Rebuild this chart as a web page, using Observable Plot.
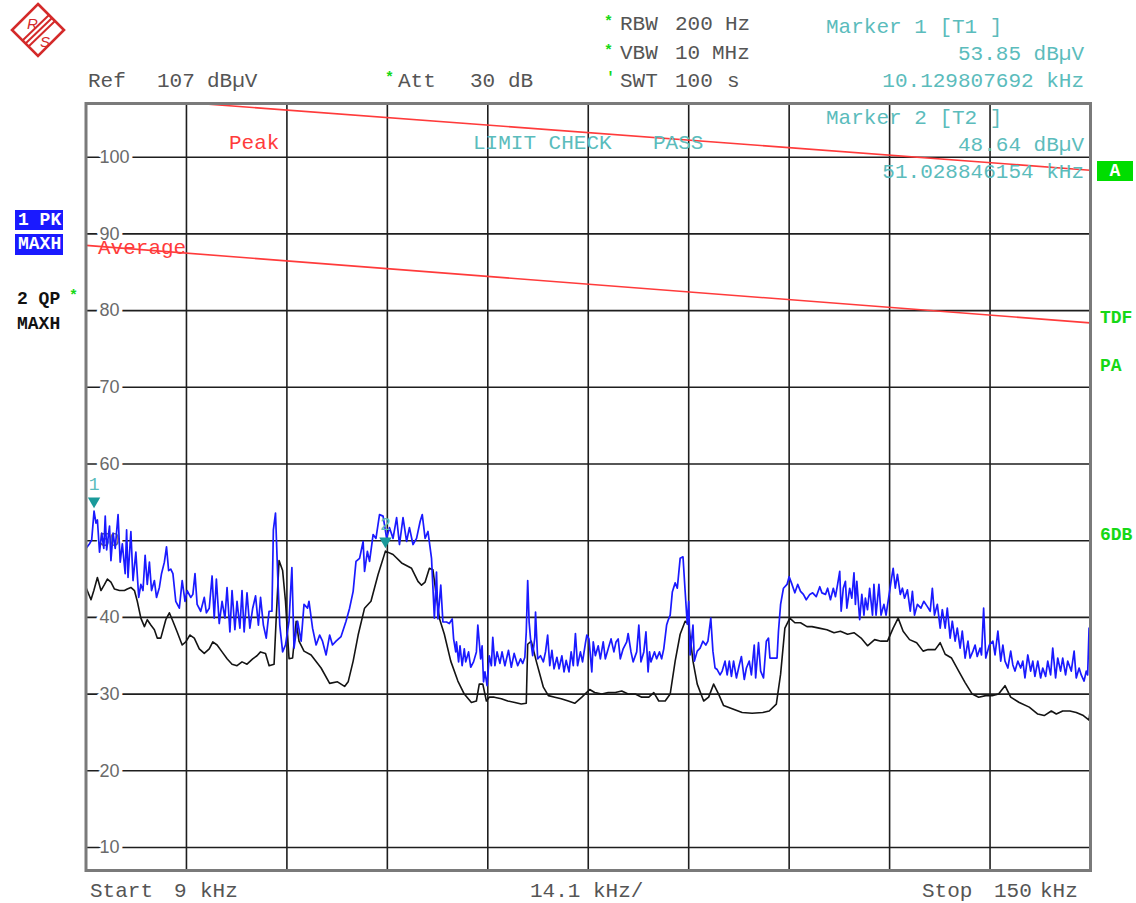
<!DOCTYPE html>
<html><head><meta charset="utf-8">
<script src="https://cdn.jsdelivr.net/npm/d3@7"></script>
<script src="https://cdn.jsdelivr.net/npm/@observablehq/plot@0.6"></script>
<style>
body{margin:0;background:#fff;}
#wrap{position:relative;width:1136px;height:903px;overflow:hidden;background:#fff;}
.t{position:absolute;white-space:pre;font-family:"Liberation Mono","DejaVu Sans Mono",monospace;font-size:21px;line-height:1;transform:translateY(-50%);}
.r{transform:translate(-100%,-50%);}
.b{font-weight:bold;font-size:18px;}
</style></head><body><div id="wrap"></div>
<script>
// ---- axis settings (kHz, dBµV)
const freqStart = 9, freqStop = 150, freqDiv = 14.1;
const refLevel = 107, levelBottom = 7;
const levelTicks = [10,20,30,40,50,60,70,80,90,100];
const freqGrid = [23.1,37.2,51.3,65.4,79.5,93.6,107.7,121.8,135.9];

// ---- limit lines [kHz, dBµV]
const peakLimit = [[9,108.1],[150,98.3]];
const avgLimit = [[9,88.5],[150,78.4]];

// ---- markers
const markers = [{n:"1", f:10.13, v:53.85}, {n:"2", f:51.03, v:48.64}];

// ---- trace 1: PK MAXH [kHz, dBµV]
const pkTrace = [
[9.0,49.0],[9.5,49.6],[9.8,50.1],[10.13,53.85],[10.4,52.3],[10.6,52.7],[10.9,48.5],[11.2,51.0],[11.5,49.0],[11.7,53.2],
[11.9,48.8],[12.3,51.9],[12.5,47.4],[12.8,51.0],[13.1,49.0],[13.5,53.4],[13.8,47.2],[14.1,49.6],[14.5,45.7],[14.7,51.4],
[14.9,45.2],[15.3,51.2],[15.6,44.8],[16.0,48.5],[16.4,42.6],[16.7,44.3],[17.0,43.5],[17.3,48.1],[17.6,44.3],[17.9,47.2],
[18.2,43.5],[18.6,44.8],[18.9,42.6],[19.3,43.9],[19.6,45.7],[20.0,47.2],[20.3,49.2],[20.6,46.1],[20.9,46.3],[21.2,45.7],
[21.6,42.1],[22.1,41.2],[22.5,44.8],[22.9,42.1],[23.2,43.5],[23.7,42.6],[24.0,43.0],[24.3,45.7],[24.6,41.7],[25.1,40.8],
[25.6,42.6],[25.9,40.6],[26.3,41.2],[26.7,45.4],[27.0,39.9],[27.3,45.0],[27.7,39.2],[28.1,42.1],[28.5,39.9],[28.8,43.9],
[29.2,38.1],[29.5,43.5],[29.9,38.4],[30.2,42.1],[30.6,38.6],[30.9,43.5],[31.2,38.1],[31.6,43.2],[32.0,38.6],[32.4,41.2],
[32.8,42.8],[33.2,39.0],[33.5,42.6],[33.9,39.0],[34.3,37.3],[34.7,40.8],[35.1,40.8],[35.3,51.4],[35.6,53.6],[35.9,45.7],
[36.2,39.0],[36.6,35.5],[37.0,36.4],[37.5,39.5],[37.9,46.5],[38.2,36.0],[38.7,39.5],[39.2,36.9],[39.6,41.7],[40.1,41.2],
[40.3,42.1],[40.8,38.6],[41.3,36.4],[41.8,37.7],[42.2,36.9],[42.7,35.1],[43.2,37.7],[43.6,36.4],[44.1,36.9],[44.8,37.5],
[45.5,39.5],[46.0,41.2],[46.5,43.4],[46.9,47.3],[47.4,47.7],[47.9,49.9],[48.1,46.0],[48.5,48.6],[48.8,47.3],[49.3,50.8],
[49.7,50.3],[50.2,53.4],[50.7,53.2],[51.2,50.3],[51.6,51.7],[52.1,50.3],[52.6,53.0],[53.0,49.5],[53.5,53.0],[54.0,49.9],
[54.4,51.7],[54.9,49.5],[55.4,50.3],[55.9,52.5],[56.2,53.4],[56.6,50.3],[57.0,51.2],[57.5,47.7],[57.9,39.9],[58.2,45.9],
[58.4,39.8],[58.8,44.2],[59.1,39.4],[59.6,39.4],[60.0,39.2],[60.4,39.8],[60.6,37.2],[60.9,35.5],[61.0,36.8],[61.3,34.2],
[61.5,36.3],[61.8,33.7],[62.1,35.9],[62.3,34.2],[62.7,35.5],[63.0,33.5],[63.4,34.2],[63.8,35.5],[64.0,39.0],[64.4,34.6],
[64.6,36.3],[64.8,31.6],[65.0,32.9],[65.3,31.1],[65.6,35.0],[65.9,33.7],[66.1,37.4],[66.4,33.7],[66.7,35.5],[67.1,34.0],
[67.4,35.5],[67.8,33.7],[68.3,35.7],[68.7,33.5],[69.1,35.3],[69.6,33.7],[70.0,34.6],[70.3,34.0],[70.6,34.8],[70.8,38.1],
[71.0,44.8],[71.2,39.4],[71.4,37.2],[71.7,35.0],[72.0,37.4],[72.1,40.7],[72.4,34.6],[72.8,35.0],[73.2,34.2],[73.5,35.5],
[73.8,37.7],[74.1,33.7],[74.4,35.7],[74.7,33.3],[75.1,34.8],[75.4,33.3],[75.8,35.0],[76.1,32.9],[76.4,34.4],[76.8,32.9],
[77.1,35.5],[77.4,33.7],[77.7,37.9],[78.0,33.7],[78.4,35.5],[78.7,34.2],[79.1,36.6],[79.3,37.7],[79.6,37.2],[80.0,32.9],
[80.2,36.8],[80.5,35.0],[80.9,36.3],[81.2,34.6],[81.6,36.8],[81.9,34.6],[82.3,35.9],[82.7,37.2],[83.1,35.5],[83.4,36.8],
[83.7,37.2],[84.0,34.6],[84.4,35.9],[84.9,36.8],[85.1,37.9],[85.5,35.5],[85.8,34.2],[86.3,35.5],[86.6,39.0],[86.9,34.2],
[87.3,35.5],[87.6,38.1],[87.9,32.9],[88.1,35.5],[88.3,34.2],[88.8,35.5],[89.1,34.6],[89.5,35.5],[89.8,34.6],[90.1,35.9],
[90.5,39.0],[90.7,39.6],[91.0,40.3],[91.3,43.3],[91.7,44.5],[92.0,43.8],[92.4,47.7],[92.8,47.9],[93.1,43.4],[93.4,39.1],
[93.6,42.1],[93.8,35.1],[94.2,39.0],[94.4,34.3],[94.8,35.6],[95.2,36.0],[95.6,36.9],[96.0,36.4],[96.3,36.9],[96.7,39.9],
[97.0,35.6],[97.3,33.4],[97.6,33.2],[98.0,32.5],[98.3,33.0],[98.7,34.3],[99.0,32.5],[99.3,34.3],[99.6,32.3],[99.9,34.3],
[100.3,32.1],[100.7,33.8],[101.0,34.9],[101.4,31.9],[101.7,33.4],[102.1,34.3],[102.4,32.5],[102.8,36.4],[103.0,32.1],[103.4,36.7],
[103.7,33.0],[104.1,32.1],[104.5,36.9],[104.8,37.3],[105.0,34.7],[105.5,34.7],[106.0,34.7],[106.2,38.2],[106.5,41.7],[106.9,43.8],
[107.4,44.3],[107.7,45.3],[108.1,44.3],[108.5,43.2],[108.9,44.3],[109.3,43.4],[109.7,43.0],[110.1,42.3],[110.6,43.0],[111.0,43.2],
[111.5,42.7],[112.0,44.0],[112.3,43.2],[112.8,43.0],[113.1,43.8],[113.5,42.3],[113.9,43.8],[114.2,42.7],[114.5,44.3],[114.8,46.0],
[115.0,40.8],[115.3,43.8],[115.6,44.7],[115.8,41.2],[116.2,43.8],[116.5,42.5],[116.8,45.8],[117.0,41.7],[117.2,44.7],[117.6,39.7],
[117.9,43.0],[118.2,40.3],[118.4,42.5],[118.7,41.0],[119.0,43.8],[119.4,40.3],[119.6,44.3],[119.9,40.3],[120.3,44.3],[120.6,40.3],
[121.0,41.7],[121.3,40.3],[121.8,43.4],[122.0,44.7],[122.3,46.4],[122.6,43.8],[122.9,45.6],[123.3,43.0],[123.6,43.8],[123.9,42.5],
[124.3,43.6],[124.7,40.8],[125.0,43.4],[125.3,40.3],[125.7,41.7],[126.2,41.2],[126.6,42.1],[127.1,41.4],[127.5,40.8],[127.8,43.8],
[128.1,40.3],[128.5,41.7],[128.9,38.6],[129.2,41.0],[129.6,38.6],[129.9,41.2],[130.3,37.3],[130.6,39.5],[131.0,36.9],[131.3,38.6],
[131.7,36.0],[132.0,38.2],[132.4,34.7],[132.8,36.9],[133.1,34.7],[133.5,35.6],[133.8,36.4],[134.1,34.9],[134.5,36.0],[134.7,35.1],
[135.0,41.2],[135.3,34.7],[135.8,36.4],[136.3,36.9],[136.6,35.1],[137.0,38.2],[137.4,34.3],[137.7,36.4],[138.0,34.3],[138.4,33.4],
[138.8,35.6],[139.1,33.8],[139.4,33.0],[139.8,34.3],[140.2,33.4],[140.5,34.3],[140.8,32.1],[141.2,35.1],[141.6,33.0],[141.9,34.3],
[142.2,32.3],[142.6,34.3],[143.0,32.1],[143.3,33.4],[143.7,32.3],[144.0,34.3],[144.4,32.5],[144.7,36.0],[145.1,32.1],[145.4,34.7],
[145.8,33.0],[146.1,34.7],[146.5,32.5],[146.8,34.3],[147.3,33.0],[147.7,35.6],[148.0,32.1],[148.4,33.4],[148.7,32.5],[149.1,31.7],
[149.4,33.0],[149.6,32.5],[149.8,38.6],[150.0,32.3]
];

// ---- trace 2: QP MAXH [kHz, dBµV]
const qpTrace = [
[9.0,43.9],[9.7,42.3],[10.1,43.5],[10.6,45.2],[11.1,43.5],[11.6,44.3],[12.0,45.0],[12.5,44.6],[13.0,43.7],[13.7,43.5],
[14.4,43.5],[14.8,43.7],[15.3,43.9],[15.8,43.5],[16.2,42.1],[16.7,39.9],[17.2,38.8],[17.6,39.7],[18.1,39.0],[18.6,38.4],
[19.0,37.3],[19.5,37.3],[20.2,39.7],[20.7,40.6],[21.2,39.5],[21.8,38.1],[22.5,36.4],[23.0,36.8],[23.6,37.7],[24.2,37.3],
[24.9,35.9],[25.6,35.3],[26.3,35.9],[26.8,36.8],[27.4,36.4],[28.1,35.5],[28.8,34.6],[29.5,33.9],[30.2,33.7],[30.9,34.2],
[31.6,33.9],[32.4,34.6],[33.0,35.0],[33.5,35.5],[34.2,35.3],[34.7,33.7],[35.4,33.9],[35.7,39.9],[36.1,47.4],[36.6,46.1],
[37.0,42.1],[37.5,34.6],[38.0,34.7],[38.5,39.5],[38.9,36.9],[39.6,35.6],[40.6,35.1],[42.0,33.4],[43.2,31.4],[44.3,31.6],
[45.3,31.0],[45.8,31.6],[46.5,34.3],[47.2,37.7],[48.1,41.2],[49.0,42.1],[50.0,45.6],[51.03,48.64],[52.1,48.2],[53.3,47.1],
[54.7,46.4],[55.6,44.7],[56.1,44.2],[56.6,44.6],[57.2,46.4],[57.7,46.2],[58.1,43.4],[58.6,39.9],[59.3,37.8],[60.2,34.3],
[61.2,31.7],[62.1,30.0],[63.1,28.9],[63.8,29.1],[64.2,31.3],[64.7,31.3],[65.2,29.1],[65.6,29.6],[66.3,29.6],[67.3,29.4],
[68.2,29.1],[69.2,28.9],[70.1,28.7],[70.8,28.8],[71.0,36.5],[71.5,36.9],[72.2,34.3],[73.2,30.9],[73.9,29.8],[74.8,29.6],
[75.7,29.4],[76.7,29.1],[77.6,28.8],[78.6,29.6],[79.7,30.6],[80.4,30.2],[81.4,30.0],[82.3,30.2],[83.3,30.2],[84.2,30.4],
[85.1,30.0],[86.1,30.0],[87.0,29.6],[88.0,29.6],[88.7,30.2],[89.4,29.1],[90.3,29.1],[91.0,30.0],[91.7,34.3],[92.4,37.8],
[93.1,39.5],[93.6,39.1],[94.2,34.3],[94.8,31.3],[95.7,29.1],[96.4,29.6],[97.1,31.3],[97.8,30.0],[98.5,28.5],[99.7,28.1],
[101.1,27.6],[102.5,27.5],[104.0,27.6],[104.9,27.8],[105.9,28.7],[106.5,32.6],[107.1,38.6],[107.8,39.9],[108.5,39.3],[109.3,39.3],
[110.2,38.8],[110.9,38.8],[111.9,38.6],[113.0,38.4],[114.0,38.0],[114.9,38.2],[115.9,37.8],[116.8,38.0],[117.8,37.3],[118.7,36.3],
[119.7,37.1],[120.6,36.9],[121.5,36.9],[122.3,38.6],[123.0,39.9],[123.7,38.2],[124.6,37.1],[125.6,36.7],[126.5,35.6],[127.2,35.8],
[128.2,35.8],[128.9,36.7],[129.6,35.2],[130.5,34.7],[131.5,33.0],[132.4,31.5],[133.4,30.0],[134.3,29.6],[135.3,29.8],[136.2,29.8],
[137.1,30.0],[138.0,31.1],[138.8,29.6],[140.0,28.9],[141.4,28.3],[142.6,27.4],[143.5,27.2],[144.5,27.8],[145.2,27.4],[146.1,27.8],
[147.1,27.8],[148.0,27.6],[149.0,27.2],[149.8,26.6],[150.0,28.3]
];

const teal = "#5bbcbc", red = "#ff3b3b", green = "#16d816", gray = "#555";

const chart = Plot.plot({
  width: 1136, height: 903,
  marginLeft: 85.5, marginRight: 46, marginTop: 103, marginBottom: 33,
  x: {domain: [freqStart, freqStop], axis: null},
  y: {domain: [levelBottom, refLevel], axis: null},
  marks: [
    Plot.ruleX(freqGrid, {stroke: "#1e1e1e", strokeWidth: 1.6}),
    Plot.ruleY(levelTicks, {stroke: "#1e1e1e", strokeWidth: 1.6}),
    Plot.text(levelTicks, {x: freqStart, y: d => d, text: d => String(d), dx: 13.5, textAnchor: "start",
      fill: "#6a6a6a", stroke: "white", strokeWidth: 7, fontSize: 18, fontFamily: "Liberation Sans, Arial, sans-serif"}),
    Plot.line(peakLimit, {x: d => d[0], y: d => d[1], stroke: red, strokeWidth: 1.6, clip: true}),
    Plot.line(avgLimit, {x: d => d[0], y: d => d[1], stroke: red, strokeWidth: 1.6, clip: true}),
    Plot.line(qpTrace, {x: d => d[0], y: d => d[1], stroke: "#141414", strokeWidth: 1.6, clip: true}),
    Plot.line(pkTrace, {x: d => d[0], y: d => d[1], stroke: "#1a1aff", strokeWidth: 1.7, clip: true}),
    Plot.dot(markers, {x: "f", y: "v", symbol: "triangle", r: 4.6, rotate: 180, dy: -10, fill: "#1a9a9a"}),
    Plot.text(markers, {x: "f", y: "v", text: "n", dy: -27, fill: teal, fontSize: 18, fontFamily: "Liberation Mono, monospace"}),
    Plot.frame({stroke: "#7a7a7a", strokeWidth: 3})
  ]
});
chart.style.position = "absolute";
chart.style.left = "0px";
chart.style.top = "0px";
const wrap = document.getElementById("wrap");
wrap.appendChild(chart);

function label(x, y, text, color, cls = "", extra = {}) {
  const d = document.createElement("div");
  d.className = "t " + cls;
  d.textContent = text;
  d.style.left = x + "px";
  d.style.top = y + "px";
  d.style.color = color;
  Object.assign(d.style, extra);
  wrap.appendChild(d);
  return d;
}
// header
label(88, 81, "Ref", gray); label(157, 81, "107", gray); label(207, 81, "dBµV", gray);
label(385, 78, "*", green, "", {fontSize: "15px", fontWeight: "bold"});
label(398, 81, "Att", gray); label(470, 81, "30", gray); label(508, 81, "dB", gray);
label(604, 22, "*", green, "", {fontSize: "15px", fontWeight: "bold"});
label(620, 24, "RBW", gray); label(675, 24, "200", gray); label(725, 24, "Hz", gray);
label(604, 51, "*", green, "", {fontSize: "15px", fontWeight: "bold"});
label(620, 53, "VBW", gray); label(675, 53, "10", gray); label(712, 53, "MHz", gray);
label(606, 78, "'", green, "", {fontSize: "15px", fontWeight: "bold"});
label(620, 81, "SWT", gray); label(675, 81, "100", gray); label(727, 81, "s", gray);
// marker readouts
label(826, 27, "Marker 1 [T1 ]", teal);
label(1084, 54, "53.85 dBµV", teal, "r");
label(1084, 81, "10.129807692 kHz", teal, "r");
label(826, 118, "Marker 2 [T2 ]", teal);
label(1084, 145, "48.64 dBµV", teal, "r");
label(1084, 172, "51.028846154 kHz", teal, "r");
// in-plot texts
label(229, 143, "Peak", red);
label(473, 143, "LIMIT CHECK", teal);
label(653, 143, "PASS", teal);
label(98, 248, "Average", red);
// footer
label(90, 891, "Start", gray); label(174, 891, "9", gray); label(200, 891, "kHz", gray);
label(530, 891, "14.1", gray); label(593, 891, "kHz/", gray);
label(922, 891, "Stop", gray); label(994, 891, "150", gray); label(1040, 891, "kHz", gray);
// trace tags left
label(15, 210, "1 PK", "#fff", "b", {background: "#1a1aff", width: "45px", height: "20px", lineHeight: "20px", transform: "none", paddingLeft: "3px"});
label(15, 234, "MAXH", "#fff", "b", {background: "#1a1aff", width: "45px", height: "21px", lineHeight: "21px", transform: "none", paddingLeft: "3px"});
label(17, 299, "2 QP", "#111", "b");
label(69, 296, "*", green, "", {fontSize: "15px", fontWeight: "bold"});
label(17, 324, "MAXH", "#111", "b");
// right tags
label(1097, 161, "A", "#fff", "b", {background: "#00dd00", width: "36px", height: "20px", lineHeight: "20px", textAlign: "center", transform: "none"});
label(1100, 318, "TDF", green, "b");
label(1100, 366, "PA", green, "b");
label(1100, 535, "6DB", green, "b");

// R&S logo
const ns = "http://www.w3.org/2000/svg";
const logo = document.createElementNS(ns, "svg");
logo.setAttribute("width", "70"); logo.setAttribute("height", "62");
logo.style.position = "absolute"; logo.style.left = "3px"; logo.style.top = "0px";
logo.innerHTML = `
<path d="M35,4 L61,30 L35,56 L9,30 Z" fill="none" stroke="#d42a2a" stroke-width="2.6"/>
<path d="M19,41 L46,15 M22,44 L49,18 M25,47 L52,21" stroke="#d42a2a" stroke-width="2"/>
<text x="24" y="29" font-family="Liberation Sans, Arial" font-style="italic" font-size="15" fill="#d42a2a">R</text>
<text x="37" y="47" font-family="Liberation Sans, Arial" font-style="italic" font-size="15" fill="#d42a2a">S</text>`;
wrap.appendChild(logo);
</script>
</body></html>
